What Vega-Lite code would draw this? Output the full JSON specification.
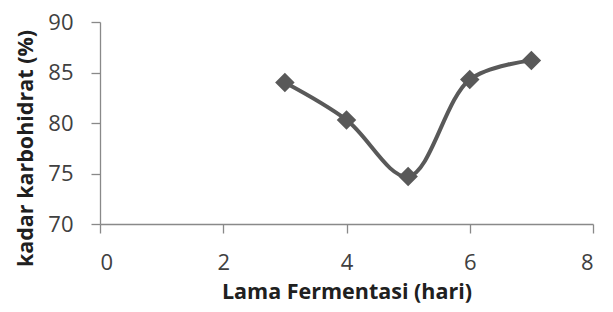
{
  "$schema": "https://vega.github.io/schema/vega-lite/v6.json",
  "width": 493,
  "height": 202,
  "autosize": "none",
  "padding": {"left": 100, "top": 22, "right": 20, "bottom": 88},
  "background": "white",
  "config": {"view": {"stroke": null}},
  "data": {"values": [
    {"hari": 3, "kadar": 84.0},
    {"hari": 4, "kadar": 80.3},
    {"hari": 5, "kadar": 74.7},
    {"hari": 6, "kadar": 84.3},
    {"hari": 7, "kadar": 86.2}
  ]},
  "encoding": {
    "x": {"field": "hari", "type": "quantitative",
      "scale": {"domain": [0, 8], "nice": false, "zero": false},
      "axis": {"values": [0, 2, 4, 6, 8], "grid": false, "title": "Lama Fermentasi (hari)",
        "domainColor": "#898989", "tickColor": "#898989", "tickSize": 9, "domainWidth": 1.3, "tickWidth": 1.3,
        "labelFont": "Open Sans", "labelFontSize": 22, "labelColor": "#404040", "labelPadding": 19,
        "titleFont": "Open Sans", "titleFontSize": 21.5, "titleFontWeight": "bold", "titleColor": "#202020", "titlePadding": 8}},
    "y": {"field": "kadar", "type": "quantitative",
      "scale": {"domain": [70, 90], "nice": false, "zero": false},
      "axis": {"values": [70, 75, 80, 85, 90], "grid": false, "title": "kadar karbohidrat (%)",
        "domainColor": "#898989", "tickColor": "#898989", "tickSize": 9, "domainWidth": 1.3, "tickWidth": 1.3,
        "labelFont": "Open Sans", "labelFontSize": 22, "labelColor": "#404040", "labelPadding": 18,
        "titleFont": "Open Sans", "titleFontSize": 21.5, "titleFontWeight": "bold", "titleColor": "#202020", "titlePadding": 10, "titleY": 126}}
  },
  "layer": [
    {"mark": {"type": "line", "interpolate": "catmull-rom", "color": "#595959", "strokeWidth": 4}},
    {"mark": {"type": "point", "shape": "diamond", "filled": true, "color": "#595959", "opacity": 1, "size": 380}}
  ]
}
